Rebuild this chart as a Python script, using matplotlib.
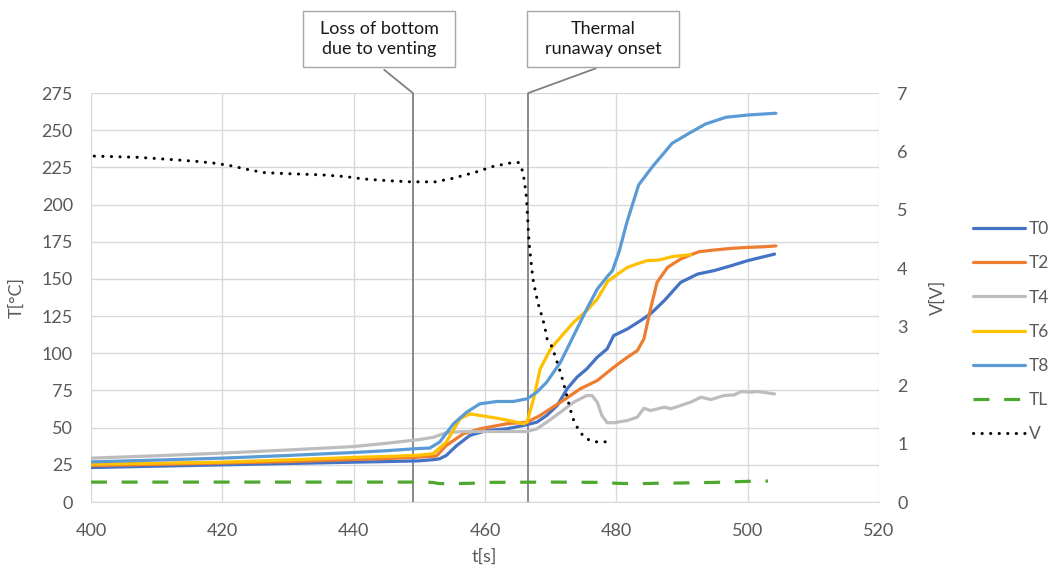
import numpy as np
import matplotlib
matplotlib.use('Agg')
import matplotlib.pyplot as plt
from matplotlib.patches import Rectangle

plt.rcParams['font.family'] = ['Lato', 'DejaVu Sans']

# Температуры (°C) по времени (s)
t_T0 = [400, 410, 420, 430, 440, 445, 450, 452.4, 453.1, 454.1, 455.7, 457.7, 460.3, 463.3, 465.9,
        467.9, 469.4, 471, 472.5, 474, 475.5, 477.1, 478.6, 479.6, 481.7, 483.7, 485.2, 487.3, 489.8,
        492.4, 494.9, 497.5, 500, 504.1]
T0 = [23.2, 24.1, 25, 25.9, 26.8, 27.2, 27.7, 28.6, 29.1, 31.3, 38, 44.8, 48.1, 49.2, 51.5,
      53.7, 58.2, 64.9, 76.1, 83.9, 89.5, 97.4, 103, 111.9, 116.4, 122, 126.5, 135.4, 147.7,
      153.3, 155.6, 158.9, 162.3, 166.7]

t_T2 = [400, 410, 420, 430, 440, 445, 450, 452.6, 454.1, 456.7, 459.2, 463.3, 466.4, 468.4, 471.5,
        474.5, 477.1, 479.6, 481.7, 483.2, 484.2, 485.2, 486.2, 487.8, 489.8, 491.5, 492.6, 495,
        497.7, 500, 502.8, 504.3]
T2 = [24.5, 25.3, 26.2, 27.2, 28.6, 29.2, 30.2, 30.9, 38, 45.9, 49.2, 52.6, 53.7, 58.2, 67.1,
      76.1, 81.7, 90.6, 97.4, 101.8, 109.7, 129.8, 147.7, 157.8, 163.4, 166.5, 168.3, 169.5,
      170.6, 171.2, 171.7, 172.2]

t_T4 = [400, 410, 420, 430, 440, 445, 450, 452.1, 454.1, 456.7, 461.8, 466.4, 467.9, 469.4, 471.5,
        473.5, 475.5, 476.3, 477.1, 477.8, 478.6, 479.6, 481.7, 483.2, 484.2, 485.2, 487.3, 488.3,
        489.8, 491.3, 492.9, 494.4, 496.4, 498, 499, 500.5, 501.5, 504.1]
T4 = [29.5, 31.1, 32.9, 35, 37.3, 39.5, 42, 43.5, 46.6, 47.4, 47.4, 47.4, 49.2, 53.7, 60.4,
      67.1, 71.6, 71.6, 67.1, 58.2, 53.3, 53.3, 54.8, 57.1, 63.1, 61.5, 63.8, 62.7,
      64.9, 67.1, 70.5, 68.9, 71.6, 72.1, 74.3, 73.9, 74.3, 72.7]

t_T6 = [400, 410, 420, 430, 440, 445, 450, 452.1, 454.1, 456.2, 457.7, 459.2, 461.8, 464.3, 465.9,
        466.4, 467.4, 468.4, 470, 471.5, 473.5, 475.5, 477.1, 478.7, 480.4, 481.7, 483.4, 484.7,
        486.5, 488.5, 491.3]
T6 = [25.4, 26.1, 26.8, 28.3, 30, 30.6, 31.5, 32.5, 40.3, 56, 59.3, 58.2, 56.4, 54.2, 52.6,
      53.7, 69.4, 89.5, 103, 110.8, 120.9, 128.7, 136.5, 148.5, 153.8, 157.8, 160.5, 162.3,
      162.7, 165, 166.3]

t_T8 = [400, 410, 420, 430, 440, 445, 450, 451.6, 453.1, 455.2, 457.2, 459.2, 461.8, 464.3, 466.4,
        467.9, 469.4, 471.5, 473.5, 475.5, 477.1, 478.6, 479.4, 480.4, 481.6, 483.4, 485.5, 488.5,
        491.1, 493.6, 496.7, 500.3, 504.3]
T8 = [27, 28.2, 29.5, 31.3, 33.3, 34.5, 36, 36.3, 40.3, 52.6, 60.4, 66, 67.6, 67.6, 69.4,
      73.9, 80.6, 94, 111.9, 129.8, 143.2, 151.5, 155.5, 168, 188, 213.2, 225.5, 241.2,
      248, 254.2, 258.7, 260.3, 261.4]

t_TL = [400, 410, 420, 430, 440, 450, 452, 453, 455, 458, 460, 470, 478, 480, 483, 486, 490, 495,
        500, 503.1]
TL = [13.4, 13.4, 13.4, 13.4, 13.4, 13.4, 13.2, 12.4, 12.4, 12.6, 13.2, 13.4, 13.2, 12.6, 12.3,
      12.6, 12.8, 13.2, 13.9, 14.1]

# Напряжение (V)
t_V = [400.5, 407.1, 412.4, 416.1, 418.7, 421.1, 423.5, 426.1, 429.8, 435, 438.7, 441.4, 445.1,
       448.7, 452.4, 455.1, 458.7, 461.1, 463.7, 465.1, 465.6, 466.0, 466.3, 466.5, 466.7, 467.0,
       467.3, 467.7, 468.1, 468.7, 469.1, 469.5, 470.2, 470.7, 471.2, 471.7, 472.1, 472.5, 473,
       473.5, 474.3, 475.3, 476.6, 477.8, 479.1]
V = [5.92, 5.90, 5.86, 5.83, 5.80, 5.76, 5.70, 5.64, 5.62, 5.60, 5.57, 5.53, 5.50,
     5.48, 5.48, 5.54, 5.65, 5.74, 5.80, 5.81, 5.71, 5.50, 5.22, 4.84, 4.45, 4.12,
     3.82, 3.59, 3.39, 3.17, 3.00, 2.77, 2.66, 2.49, 2.32, 2.14, 1.97, 1.80, 1.58,
     1.40, 1.22, 1.09, 1.03, 1.03, 1.03]

# События
event_t = [449.0, 466.6]
event_text = ['Loss of bottom\ndue to venting', 'Thermal\nrunaway onset']
event_box_x = [0.3655, 0.6497]

x_ticks = np.arange(400, 521, 20)
y_ticks = np.arange(0, 276, 25)
v_ticks = np.arange(0, 8, 1)

fig = plt.figure(figsize=(10.57, 5.71), dpi=100)
ax = fig.add_axes([0.0861, 0.1208, 0.8316 - 0.0861, 0.8371 - 0.1208])
ax2 = ax.twinx()

lw = 2.3
series = [
    (t_T0, T0, 'T0', '#4472C4'),
    (t_T2, T2, 'T2', '#ED7D31'),
    (t_T4, T4, 'T4', '#BDBDBD'),
    (t_T6, T6, 'T6', '#FFC000'),
    (t_T8, T8, 'T8', '#5B9BD5'),
]
handles = []
for tt, yy, name, col in series:
    h, = ax.plot(tt, yy, color=col, lw=lw, label=name, solid_capstyle='round', solid_joinstyle='round')
    handles.append(h)
h, = ax.plot(t_TL, TL, color='#4EA72E', lw=lw, label='TL', linestyle=(0, (5, 4.6)))
handles.append(h)
h, = ax2.plot(t_V, V, color='black', lw=2.2, label='V', linestyle=(0, (0.05, 2.75)),
              dash_capstyle='round')
handles.append(h)

# подписи событий: рамка + выноска
box_w, box_h, box_y = 0.1929, 0.137, 1.132
for et, txt, bx in zip(event_t, event_text, event_box_x):
    ax.axvline(et, color='#808080', lw=1.3, zorder=1)
    ax.add_patch(Rectangle((bx - box_w / 2, box_y - box_h / 2), box_w, box_h, transform=ax.transAxes,
                           fc='white', ec='#a6a6a6', lw=1, clip_on=False, zorder=5))
    ax.annotate(txt, xy=(et, 275), xycoords='data', xytext=(bx, box_y - box_h / 2),
                textcoords='axes fraction', ha='center', va='bottom', fontsize=1, color='none',
                arrowprops=dict(arrowstyle='-', color='#808080', lw=1.3, shrinkA=0, shrinkB=0),
                annotation_clip=False)
    ax.text(bx, box_y, txt, transform=ax.transAxes, ha='center', va='center', fontsize=13,
            color='#1a1a1a', linespacing=1.35, zorder=6)

ax.set_xlim(400, 520)
ax.set_ylim(0, 275)
ax2.set_ylim(0, 7)
ax.set_xticks(x_ticks)
ax.set_yticks(y_ticks)
ax2.set_yticks(v_ticks)

ax.grid(True, color='#d9d9d9', lw=1)
ax.set_axisbelow(True)
for a in (ax, ax2):
    for s in a.spines.values():
        s.set_visible(False)
ax.spines['bottom'].set_visible(True)
ax.spines['bottom'].set_color('#d9d9d9')

ax.tick_params(axis='both', length=0, labelsize=13, colors='#595959')
ax.tick_params(axis='y', pad=13)
ax.tick_params(axis='x', pad=15)
ax2.tick_params(axis='y', length=0, labelsize=13, colors='#595959', pad=13)

ax.set_xlabel('t[s]', fontsize=13, color='#595959')
ax.set_ylabel('T[°C]', fontsize=13, color='#595959')
ax2.set_ylabel('V[V]', fontsize=13, color='#595959')
ax.xaxis.set_label_coords(0.4994, -0.115)
ax.yaxis.set_label_coords(-0.084, 0.5)
ax2.yaxis.set_label_coords(1.064, 0.5)

leg = fig.legend(handles=handles, loc='center left', bbox_to_anchor=(0.912, 0.419), frameon=False,
                 fontsize=12.5, handlelength=3.0, handletextpad=0.25, labelspacing=1.05,
                 borderpad=0)
for txt in leg.get_texts():
    txt.set_color('#595959')

fig.savefig('out.png', dpi=100)
